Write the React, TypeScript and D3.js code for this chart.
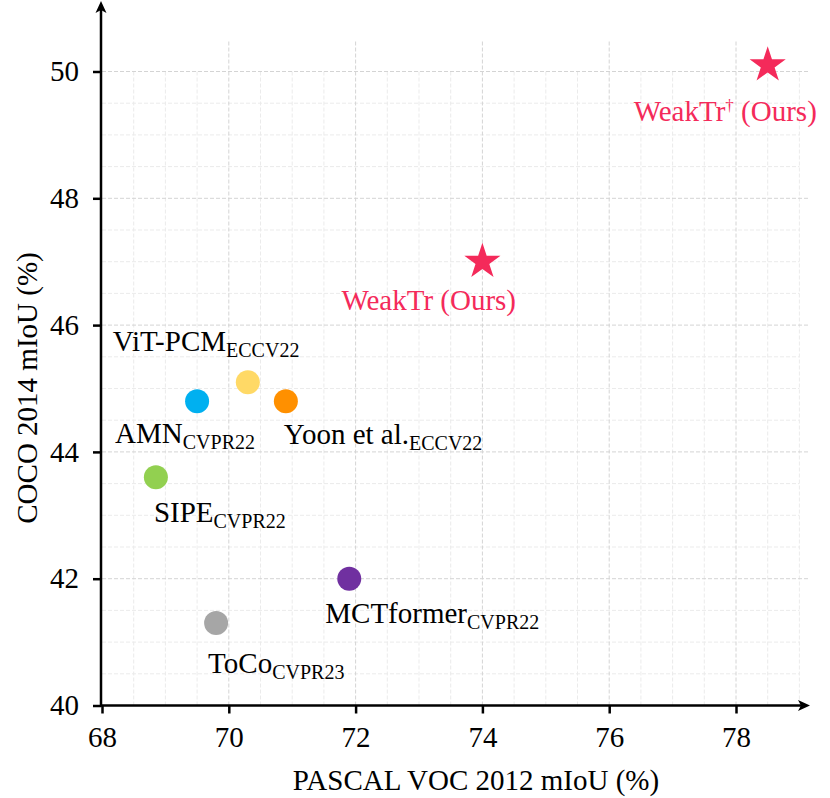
import React, { useLayoutEffect, useRef } from "react";
import * as d3 from "d3";

// methods (label, subscript venue)
const methods = ["AMN", "ViT-PCM", "Yoon et al.", "SIPE", "MCTformer", "ToCo", "WeakTr", "WeakTr"];
const venues = ["CVPR22", "ECCV22", "ECCV22", "CVPR22", "CVPR22", "CVPR23", "", ""];
const vocMiou = [69.5, 70.3, 70.9, 68.85, 71.9, 69.8, 74.0, 78.5];
const cocoMiou = [44.8, 45.1, 44.8, 43.6, 42.0, 41.3, 47.0, 50.1];
const isOurs = [false, false, false, false, false, false, true, true];
const dagger = [false, false, false, false, false, false, false, true];
const colors = ["#00B0F0", "#FFD966", "#FF9000", "#92D050", "#7030A0", "#A6A6A6", "#F42A5A", "#F42A5A"];

const xTicks = [68, 70, 72, 74, 76, 78];
const yTicks = [40, 42, 44, 46, 48, 50];

// label offsets from marker centre (px)
const labelDx = [-82, -135, -2, -2, -24, -8, -141, -134];
const labelDy = [42, -31, 43, 45, 44, 50, 48, 56];

const FONT = "Liberation Serif, Times New Roman, Times, serif";
const FS = 29;

export default function App() {
  const ref = useRef<SVGSVGElement>(null);

  useLayoutEffect(() => {
    const svg = d3.select(ref.current);
    svg.selectAll("*").remove();

    const x = d3.scaleLinear().domain([68, 78]).range([102, 736]);
    const y = d3.scaleLinear().domain([40, 50]).range([705.5, 71.5]);
    const xEnd = 79.15;
    const yTop = 50.5;

    const grid = svg.append("g");
    // minor grid
    const minorX = d3.range(68.5, 79.01, 0.5).filter(v => v % 2 !== 0);
    const minorY = d3.range(40.5, 50.01, 0.5).filter(v => v % 2 !== 0);
    grid.selectAll(".mx").data(minorX).enter().append("line")
      .attr("x1", d => x(d)).attr("x2", d => x(d))
      .attr("y1", y(40)).attr("y2", y(50))
      .attr("stroke", "#ebebeb").attr("stroke-width", 1).attr("stroke-dasharray", "4,2");
    grid.selectAll(".my").data(minorY).enter().append("line")
      .attr("x1", x(68)).attr("x2", x(79))
      .attr("y1", d => y(d)).attr("y2", d => y(d))
      .attr("stroke", "#ebebeb").attr("stroke-width", 1).attr("stroke-dasharray", "4,2");
    // major grid
    grid.selectAll(".Mx").data(xTicks.slice(1)).enter().append("line")
      .attr("x1", d => x(d)).attr("x2", d => x(d))
      .attr("y1", y(40)).attr("y2", y(yTop))
      .attr("stroke", "#d4d4d4").attr("stroke-width", 1).attr("stroke-dasharray", "4,2");
    grid.selectAll(".My").data(yTicks.slice(1)).enter().append("line")
      .attr("x1", x(68)).attr("x2", x(xEnd))
      .attr("y1", d => y(d)).attr("y2", d => y(d))
      .attr("stroke", "#d4d4d4").attr("stroke-width", 1).attr("stroke-dasharray", "4,2");

    // axes
    const xAxis = svg.append("g")
      .attr("transform", `translate(0, ${y(40)})`)
      .call(d3.axisBottom(x).tickValues(xTicks).tickSize(8).tickPadding(13).tickFormat(d3.format("d")));
    const yAxis = svg.append("g")
      .attr("transform", `translate(${x(68) - 1}, 0)`)
      .call(d3.axisLeft(y).tickValues(yTicks).tickSize(8).tickPadding(14).tickFormat(d3.format("d")));
    [xAxis, yAxis].forEach(a => {
      a.attr("font-family", FONT).attr("font-size", FS);
      a.select(".domain").remove();
      a.selectAll("line").attr("stroke", "#000").attr("stroke-width", 2.5);
      a.selectAll("text").attr("fill", "#000");
    });

    const ax = x(68) - 1;
    const ay = y(40);
    svg.append("line").attr("x1", ax - 1).attr("x2", 802).attr("y1", ay).attr("y2", ay)
      .attr("stroke", "#000").attr("stroke-width", 2.5);
    svg.append("path").attr("d", `M810,${ay} L798,${ay - 5.5} L801,${ay} L798,${ay + 5.5} Z`).attr("fill", "#000");
    svg.append("line").attr("x1", ax).attr("x2", ax).attr("y1", ay + 1).attr("y2", 10)
      .attr("stroke", "#000").attr("stroke-width", 2.5);
    svg.append("path").attr("d", `M${ax},1 L${ax - 5.5},13 L${ax},10 L${ax + 5.5},13 Z`).attr("fill", "#000");

    // axis titles
    svg.append("text")
      .attr("x", 476).attr("y", 790)
      .attr("text-anchor", "middle")
      .attr("font-family", FONT).attr("font-size", FS)
      .text("PASCAL VOC 2012 mIoU (%)");
    svg.append("text")
      .attr("transform", `translate(37, 388) rotate(-90)`)
      .attr("text-anchor", "middle")
      .attr("font-family", FONT).attr("font-size", FS)
      .text("COCO 2014 mIoU (%)");

    // markers
    const idx = d3.range(methods.length);
    const star = d3.symbol().type(d3.symbolStar).size(405);
    svg.selectAll(".pt").data(idx.filter(i => !isOurs[i])).enter().append("circle")
      .attr("cx", i => x(vocMiou[i])).attr("cy", i => y(cocoMiou[i]))
      .attr("r", 12).attr("fill", i => colors[i]);
    svg.selectAll(".st").data(idx.filter(i => isOurs[i])).enter().append("path")
      .attr("d", star)
      .attr("transform", i => `translate(${x(vocMiou[i])}, ${y(cocoMiou[i])})`)
      .attr("fill", i => colors[i]);

    // labels
    idx.forEach(i => {
      const t = svg.append("text")
        .attr("x", x(vocMiou[i]) + labelDx[i])
        .attr("y", y(cocoMiou[i]) + labelDy[i])
        .attr("font-family", FONT).attr("font-size", FS)
        .attr("fill", isOurs[i] ? colors[i] : "#000");
      t.append("tspan").text(methods[i]);
      if (venues[i]) {
        t.append("tspan").attr("font-size", 20).attr("dy", 6).text(venues[i]);
      }
      if (isOurs[i]) {
        if (dagger[i]) {
          t.append("tspan").attr("font-size", 17).attr("dy", -10).text("†");
          t.append("tspan").attr("dy", 10).text(" (Ours)");
        } else {
          t.append("tspan").text(" (Ours)");
        }
      }
    });
  }, []);

  return (
    <svg ref={ref} width={830} height={798}
      style={{ position: "absolute", left: 0, top: 0, background: "#fff" }} />
  );
}
